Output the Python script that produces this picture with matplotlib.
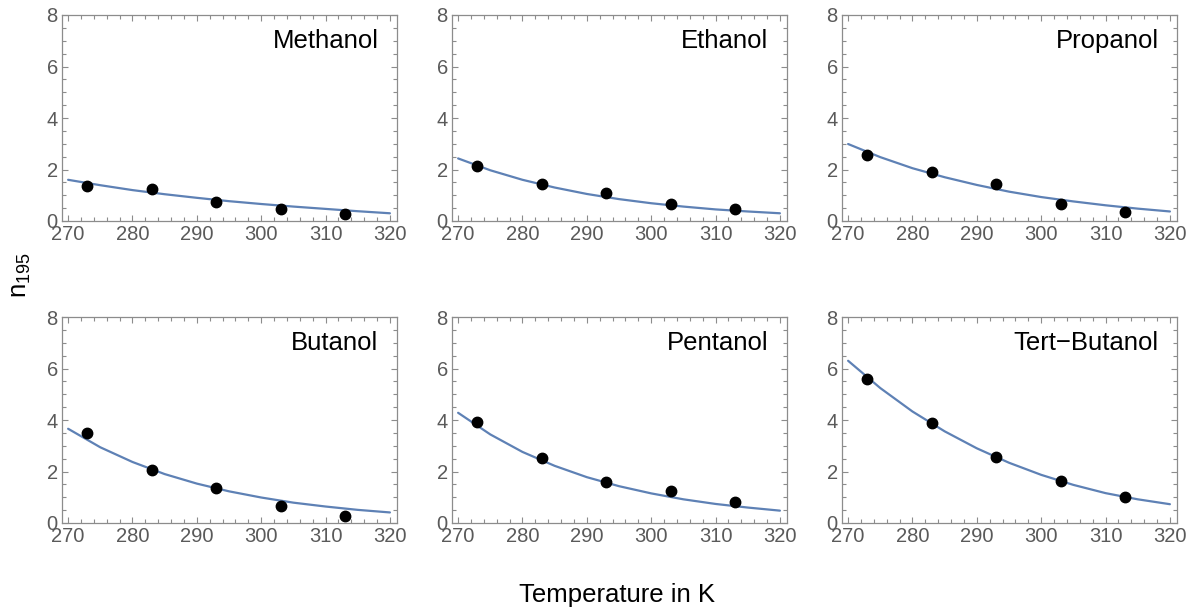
import numpy as np
import matplotlib
matplotlib.use("Agg")
import matplotlib.pyplot as plt
from matplotlib.ticker import MultipleLocator

plt.rcParams['font.family'] = ['Liberation Sans', 'DejaVu Sans']
plt.rcParams['mathtext.default'] = 'regular'

# measured temperatures and values
temps = [273, 283, 293, 303, 313]
names = ["Methanol", "Ethanol", "Propanol", "Butanol", "Pentanol", "Tert\u2212Butanol"]
methanol = [1.36, 1.23, 0.72, 0.47, 0.28]
ethanol = [2.12, 1.42, 1.10, 0.66, 0.47]
propanol = [2.56, 1.92, 1.42, 0.67, 0.35]
butanol = [3.51, 2.05, 1.35, 0.66, 0.28]
pentanol = [3.92, 2.52, 1.58, 1.26, 0.83]
tert_butanol = [5.58, 3.88, 2.58, 1.63, 1.00]

# fitted curves every 5 K
fit_t = [270, 275, 280, 285, 290, 295, 300, 305, 310, 315, 320]
fit_methanol = [1.60, 1.39, 1.20, 1.04, 0.90, 0.77, 0.66, 0.56, 0.47, 0.38, 0.30]
fit_ethanol = [2.43, 1.97, 1.60, 1.30, 1.05, 0.85, 0.69, 0.56, 0.45, 0.37, 0.30]
fit_propanol = [2.99, 2.48, 2.05, 1.70, 1.40, 1.14, 0.93, 0.76, 0.61, 0.48, 0.37]
fit_butanol = [3.66, 2.94, 2.37, 1.90, 1.53, 1.23, 0.99, 0.79, 0.64, 0.51, 0.41]
fit_pentanol = [4.28, 3.44, 2.76, 2.22, 1.78, 1.43, 1.15, 0.92, 0.74, 0.60, 0.48]
fit_tert_butanol = [6.30, 5.24, 4.33, 3.56, 2.90, 2.34, 1.87, 1.48, 1.16, 0.92, 0.73]

points = [methanol, ethanol, propanol, butanol, pentanol, tert_butanol]
fits = [fit_methanol, fit_ethanol, fit_propanol, fit_butanol, fit_pentanol, fit_tert_butanol]

W, H = 1196, 615
fig = plt.figure(figsize=(W / 100, H / 100), dpi=100)

lefts = [62, 452, 842]
tops = [15, 317]
aw, ah = 335, 206
frame = "#8c8c8c"

for i in range(6):
    r, c = divmod(i, 3)
    ax = fig.add_axes([lefts[c] / W, 1 - (tops[r] + ah) / H, aw / W, ah / H])
    ax.plot(fit_t, fits[i], color="#5e81b5", lw=1.6, solid_capstyle="round")
    ax.plot(temps, points[i], "o", color="black", ms=7.5, zorder=3)
    ax.set_xlim(269.05, 321.1)
    ax.set_ylim(0, 8)
    ax.xaxis.set_major_locator(MultipleLocator(10))
    ax.xaxis.set_minor_locator(MultipleLocator(2))
    ax.yaxis.set_major_locator(MultipleLocator(2))
    ax.yaxis.set_minor_locator(MultipleLocator(0.5))
    ax.tick_params(which="both", direction="in", top=True, right=True,
                   color=frame, width=0.8, labelcolor="#5a5a5a", labelsize=14.5)
    ax.tick_params(axis="x", pad=3)
    ax.tick_params(axis="y", pad=3)
    ax.tick_params(which="major", length=4.5)
    ax.tick_params(which="minor", length=2.8)
    for s in ax.spines.values():
        s.set_color(frame)
        s.set_linewidth(0.9)
    ax.text(0.945, 0.84, names[i], transform=ax.transAxes, ha="right",
            va="baseline", fontsize=18.5, color="black")

fig.text(617 / W, 1 - 602 / H, "Temperature in K", ha="center", va="baseline", fontsize=18.5)
fig.text(21 / W, 1 - 275 / H, "$n_{195}$", ha="center", va="center", rotation=90, fontsize=18.5)

fig.savefig("out.png", dpi=100)
